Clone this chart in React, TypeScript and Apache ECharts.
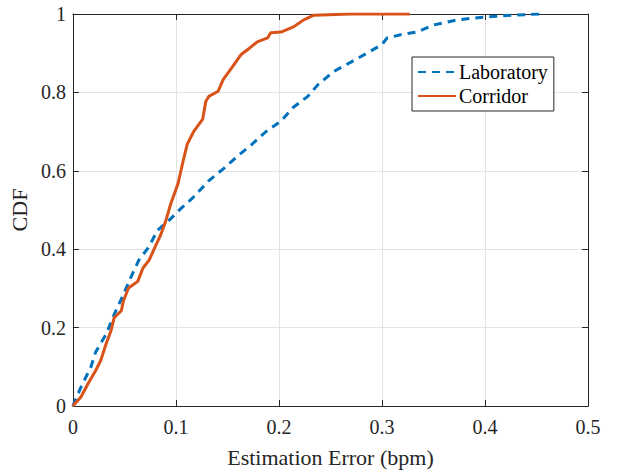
import React, { useEffect, useRef } from "react";
import * as echarts from "echarts";

const labX = [0, 0.0078, 0.0174, 0.022, 0.032, 0.040, 0.049, 0.056, 0.064, 0.074, 0.082, 0.093, 0.105, 0.116, 0.132, 0.146, 0.160, 0.174, 0.187, 0.202, 0.214, 0.228, 0.238, 0.253, 0.269, 0.286, 0.300, 0.305, 0.318, 0.334, 0.350, 0.373, 0.398, 0.427, 0.453];
const labY = [0, 0.048, 0.099, 0.137, 0.182, 0.233, 0.284, 0.327, 0.372, 0.407, 0.448, 0.473, 0.504, 0.53, 0.575, 0.605, 0.638, 0.668, 0.699, 0.727, 0.762, 0.790, 0.820, 0.853, 0.876, 0.901, 0.922, 0.939, 0.947, 0.954, 0.972, 0.985, 0.992, 0.997, 1.0];

const corX = [0, 0.0078, 0.0145, 0.022, 0.027, 0.032, 0.037, 0.040, 0.047, 0.049, 0.054, 0.063, 0.068, 0.074, 0.080, 0.085, 0.090, 0.095, 0.102, 0.107, 0.111, 0.117, 0.126, 0.129, 0.132, 0.141, 0.146, 0.155, 0.163, 0.172, 0.179, 0.189, 0.192, 0.202, 0.214, 0.224, 0.234, 0.269, 0.327];
const corY = [0, 0.023, 0.056, 0.09, 0.116, 0.157, 0.192, 0.225, 0.243, 0.268, 0.301, 0.318, 0.352, 0.372, 0.407, 0.435, 0.471, 0.516, 0.567, 0.625, 0.668, 0.699, 0.732, 0.777, 0.790, 0.803, 0.833, 0.866, 0.896, 0.914, 0.929, 0.939, 0.952, 0.954, 0.967, 0.985, 0.997, 1.0, 1.0];

const xTicks = [0, 0.1, 0.2, 0.3, 0.4, 0.5];
const yTicks = [0, 0.2, 0.4, 0.6, 0.8, 1];
const seriesNames = ["Laboratory", "Corridor"];

const FONT = "'Liberation Serif', 'Times New Roman', serif";
const AX = "#262626";

export default function App() {
  const ref = useRef<HTMLDivElement>(null);
  useEffect(() => {
    if (!ref.current) return;
    const chart = echarts.init(ref.current, null, { renderer: "svg" });
    const fmt = (v: number) => String(Math.round(v * 10) / 10);
    const baseAxis = {
      type: "value" as const,
      axisLine: { show: true, onZero: false, lineStyle: { color: AX, width: 1 } },
      axisTick: { show: true, inside: true, length: 6, lineStyle: { color: AX } },
    };
    chart.setOption({
      animation: false,
      backgroundColor: "#fff",
      grid: { left: 72, right: 33, top: 14, bottom: 64, containLabel: false },
      legend: {
        orient: "vertical",
        left: 412,
        top: 57,
        padding: [5, 6, 5, 5],
        itemGap: 4,
        itemWidth: 38,
        itemHeight: 14,
        borderColor: AX,
        borderWidth: 1,
        borderRadius: 0,
        backgroundColor: "#fff",
        itemStyle: { opacity: 0 },
        textStyle: { fontFamily: FONT, fontSize: 20, color: "#000", padding: [0, 0, 0, -2] },
        data: seriesNames,
      },
      xAxis: [
        {
          ...baseAxis,
          min: 0,
          max: 0.5,
          interval: 0.1,
          position: "bottom",
          name: "Estimation Error (bpm)",
          nameLocation: "middle",
          nameGap: 40,
          nameTextStyle: { fontFamily: FONT, fontSize: 22, color: AX },
          axisLabel: { fontFamily: FONT, fontSize: 20, color: AX, margin: 11, formatter: fmt },
          splitLine: { show: true, lineStyle: { color: "#e3e3e3", width: 1 } },
        },
        {
          ...baseAxis,
          min: 0,
          max: 0.5,
          interval: 0.1,
          position: "top",
          axisLabel: { show: false },
          splitLine: { show: false },
        },
      ],
      yAxis: [
        {
          ...baseAxis,
          min: 0,
          max: 1,
          interval: 0.2,
          position: "left",
          name: "CDF",
          nameLocation: "middle",
          nameGap: 39,
          nameRotate: 90,
          nameTextStyle: { fontFamily: FONT, fontSize: 22, color: AX },
          axisLabel: { fontFamily: FONT, fontSize: 20, color: AX, margin: 7, formatter: fmt },
          splitLine: { show: true, lineStyle: { color: "#e3e3e3", width: 1 } },
        },
        {
          ...baseAxis,
          min: 0,
          max: 1,
          interval: 0.2,
          position: "right",
          axisLabel: { show: false },
          splitLine: { show: false },
        },
      ],
      series: [
        {
          name: seriesNames[0],
          type: "line",
          xAxisIndex: 0,
          yAxisIndex: 0,
          showSymbol: false,
          symbol: "none",
          data: labX.map((x, i) => [x, labY[i]]),
          lineStyle: { color: "#0072BD", width: 3, type: [8, 6] },
          itemStyle: { color: "#0072BD" },
          z: 3,
        },
        {
          name: seriesNames[1],
          type: "line",
          xAxisIndex: 0,
          yAxisIndex: 0,
          showSymbol: false,
          symbol: "none",
          data: corX.map((x, i) => [x, corY[i]]),
          lineStyle: { color: "#D95319", width: 3 },
          itemStyle: { color: "#D95319" },
          z: 4,
        },
      ],
    });
    return () => chart.dispose();
  }, []);
  return <div ref={ref} style={{ width: 621, height: 473, position: "absolute", left: 0, top: 0 }} />;
}
